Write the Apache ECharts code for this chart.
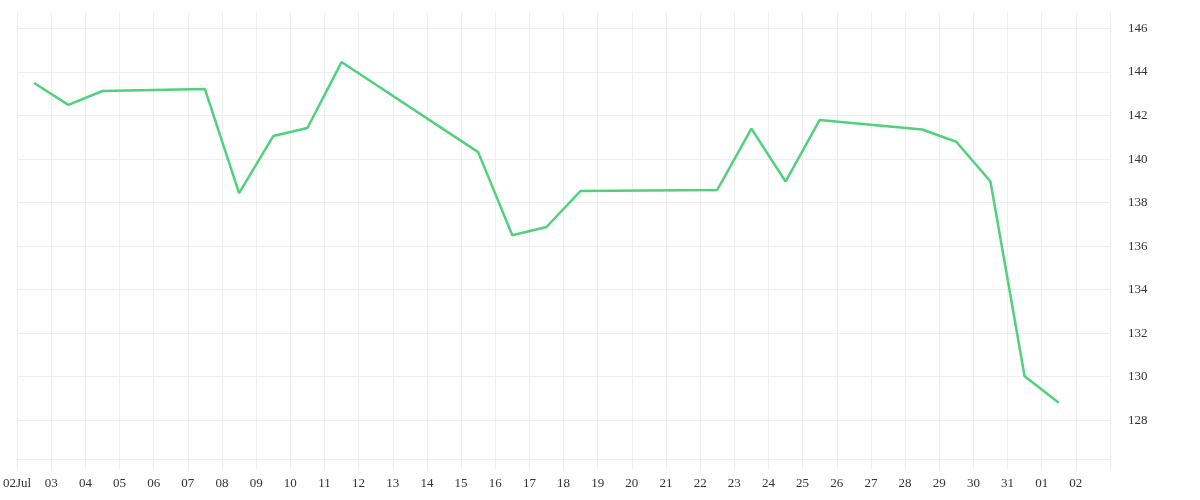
<!DOCTYPE html>
<html>
<head>
<meta charset="utf-8">
<style>
html,body{margin:0;padding:0;background:#fff;}
#chart{width:1200px;height:500px;}
</style>
<script src="https://cdn.jsdelivr.net/npm/echarts@6/dist/echarts.min.js"></script>
</head>
<body>
<div id="chart"></div>
<script>
const times = [
  '2024-07-02 12:00','2024-07-03 12:00','2024-07-04 12:00','2024-07-07 12:00',
  '2024-07-08 12:00','2024-07-09 12:00','2024-07-10 12:00','2024-07-11 12:00',
  '2024-07-15 12:00','2024-07-16 12:00','2024-07-17 12:00','2024-07-18 12:00',
  '2024-07-22 12:00','2024-07-23 12:00','2024-07-24 12:00','2024-07-25 12:00',
  '2024-07-28 12:00','2024-07-29 12:00','2024-07-30 12:00','2024-07-31 12:00',
  '2024-08-01 12:00'
];
const prices = [
  143.50, 142.49, 143.13, 143.22,
  138.44, 141.06, 141.43, 144.46,
  140.32, 136.50, 136.88, 138.54,
  138.58, 141.40, 138.97, 141.80,
  141.36, 140.80, 138.97, 130.02,
  128.80
];
const yTicks = [128, 130, 132, 134, 136, 138, 140, 142, 144, 146];
const xStart = '2024-07-02 00:00';
const xEnd = '2024-08-03 00:00';
const yMin = 126.22;
const yMax = 146.76;

const gridColor = '#eeeeee';
const font = '"Liberation Serif", serif';
const endTime = echarts.time.parse(xEnd).getTime();

const chart = echarts.init(document.getElementById('chart'));
chart.setOption({
  animation: false,
  grid: { left: 15, right: 90, top: 12, bottom: 41, containLabel: false },
  xAxis: {
    type: 'time',
    min: xStart,
    max: xEnd,
    minInterval: 86400000,
    maxInterval: 86400000,
    axisLine: { show: true, lineStyle: { color: gridColor, width: 1 } },
    axisTick: { show: true, length: 10, lineStyle: { color: gridColor } },
    splitLine: { show: true, lineStyle: { color: gridColor, width: 1 } },
    axisLabel: {
      showMaxLabel: false,
      hideOverlap: false,
      margin: 18,
      color: '#333',
      fontFamily: font,
      fontSize: 13,
      formatter: function (v) {
        if (v >= endTime) return '';
        const d = new Date(v);
        const dd = String(d.getDate()).padStart(2, '0');
        if (d.getMonth() === 6 && d.getDate() === 2) return dd + 'Jul';
        return dd;
      }
    }
  },
  yAxis: {
    type: 'value',
    position: 'right',
    min: yMin,
    max: yMax,
    axisLine: { show: false },
    axisTick: { show: false, customValues: yTicks },
    splitLine: { show: true, lineStyle: { color: gridColor, width: 1 } },
    axisLabel: {
      customValues: yTicks,
      margin: 18,
      color: '#333',
      fontFamily: font,
      fontSize: 13,
      padding: [4, 0, 0, 0]
    }
  },
  series: [{
    type: 'line',
    data: times.map((t, i) => [t, prices[i]]),
    showSymbol: false,
    symbol: 'none',
    lineStyle: { color: '#4fd27b', width: 2.5 },
    itemStyle: { color: '#4fd27b' }
  }]
});
</script>
</body>
</html>
